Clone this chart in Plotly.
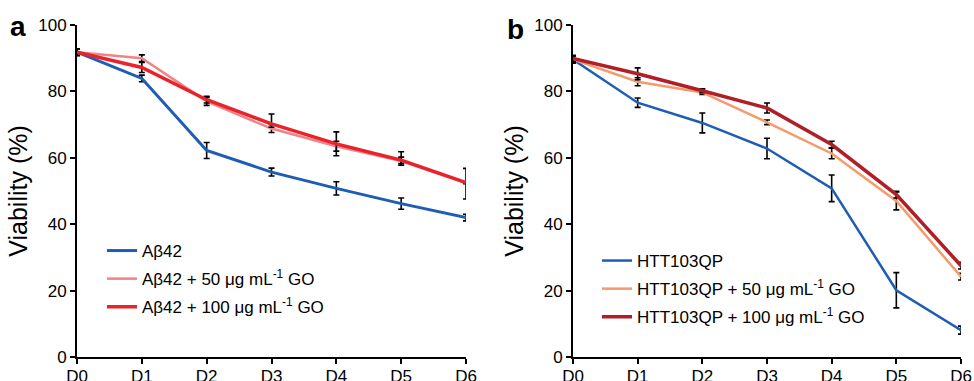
import plotly.graph_objects as go
from plotly.subplots import make_subplots

days = ["D0", "D1", "D2", "D3", "D4", "D5", "D6"]

# Panel a
ab42 = [91.8, 83.9, 62.2, 55.7, 50.8, 46.2, 42.0]
ab42_err = [1.0, 1.0, 2.4, 1.2, 2.0, 1.7, 1.0]
ab42_50 = [91.8, 90.0, 77.0, 68.8, 63.5, 59.0, 52.5]
ab42_50_err_p = [1.0, 1.0, 1.2, 1.2, 1.5, 1.2, 0.0]
ab42_50_err_m = [1.0, 1.0, 1.2, 1.2, 1.5, 1.2, 4.9]
ab42_100 = [91.8, 87.2, 77.5, 70.2, 64.2, 59.3, 52.5]
ab42_100_err_p = [1.0, 1.5, 1.0, 3.0, 3.6, 2.5, 4.3]
ab42_100_err_m = [1.0, 1.5, 1.0, 1.0, 3.6, 1.0, 0.3]

# Panel b
htt = [89.6, 76.6, 70.5, 62.8, 50.8, 20.1, 8.1]
htt_err = [1.0, 1.4, 3.0, 3.1, 4.0, 5.3, 1.2]
htt_50 = [89.6, 82.9, 79.7, 70.7, 61.3, 47.0, 24.2]
htt_50_err = [1.0, 1.2, 0.6, 0.7, 1.6, 2.7, 1.0]
htt_100 = [89.9, 85.3, 80.2, 75.0, 64.0, 48.9, 27.5]
htt_100_err = [1.0, 1.8, 0.6, 1.5, 1.0, 1.0, 1.0]

names_a = ["Aβ42", "Aβ42 + 50 μg mL<sup>-1</sup> GO", "Aβ42 + 100 μg mL<sup>-1</sup> GO"]
names_b = ["HTT103QP", "HTT103QP + 50 μg mL<sup>-1</sup> GO", "HTT103QP + 100 μg mL<sup>-1</sup> GO"]

FONT = "Liberation Sans, Arial, sans-serif"

fig = make_subplots(rows=1, cols=2)

def err(p, m=None):
    d = dict(type="data", array=p, color="black", thickness=1.6, width=3)
    if m is not None:
        d["symmetric"] = False
        d["arrayminus"] = m
    return d

fig.add_trace(go.Scatter(x=days, y=ab42, mode="lines", name=names_a[0],
                         line=dict(color="#1f5db5", width=3), error_y=err(ab42_err),
                         legend="legend", legendgroup="a1"), row=1, col=1)
fig.add_trace(go.Scatter(x=days, y=ab42_50, mode="lines", name=names_a[1],
                         line=dict(color="#f28285", width=2.5), error_y=err(ab42_50_err_p, ab42_50_err_m),
                         legend="legend", legendgroup="a2"), row=1, col=1)
fig.add_trace(go.Scatter(x=days, y=ab42_100, mode="lines", name=names_a[2],
                         line=dict(color="#e8232b", width=3.5), error_y=err(ab42_100_err_p, ab42_100_err_m),
                         legend="legend", legendgroup="a3"), row=1, col=1)

fig.add_trace(go.Scatter(x=days, y=htt, mode="lines", name=names_b[0],
                         line=dict(color="#1f5db5", width=2.5), error_y=err(htt_err),
                         legend="legend2", legendgroup="b1"), row=1, col=2)
fig.add_trace(go.Scatter(x=days, y=htt_50, mode="lines", name=names_b[1],
                         line=dict(color="#f59a6c", width=2.5), error_y=err(htt_50_err),
                         legend="legend2", legendgroup="b2"), row=1, col=2)
fig.add_trace(go.Scatter(x=days, y=htt_100, mode="lines", name=names_b[2],
                         line=dict(color="#b01f26", width=3.5), error_y=err(htt_100_err),
                         legend="legend2", legendgroup="b3"), row=1, col=2)

W, H = 974, 381
ydom = [(H - 357) / H, (H - 25) / H]

axis_common = dict(showline=True, linecolor="black", linewidth=2, ticks="outside",
                   tickcolor="black", tickwidth=2, ticklen=5, showgrid=False, zeroline=False,
                   automargin=False,
                   tickfont=dict(family=FONT, size=17, color="black"))

fig.update_xaxes(**axis_common, range=[0, 6], type="category", ticklabelstandoff=-2)
fig.update_yaxes(**axis_common, range=[0, 100], tickvals=[0, 20, 40, 60, 80, 100],
                 ticklabelstandoff=0,
                 title=dict(text="Viability (%)", font=dict(family=FONT, size=25, color="black"),
                            standoff=3))
fig.update_xaxes(domain=[77 / W, 466 / W], row=1, col=1)
fig.update_xaxes(domain=[573 / W, 961 / W], row=1, col=2)
fig.update_yaxes(domain=ydom)

legend_common = dict(bgcolor="rgba(0,0,0,0)", font=dict(family=FONT, size=17, color="black"),
                     xanchor="left", yanchor="top", tracegroupgap=3, itemwidth=30)

fig.update_layout(
    width=W, height=H,
    margin=dict(l=0, r=0, t=0, b=0),
    paper_bgcolor="white", plot_bgcolor="white",
    showlegend=True,
    legend=dict(**legend_common, x=102 / W, y=(H - 233) / H),
    legend2=dict(**legend_common, x=597 / W, y=(H - 243) / H),
    annotations=[
        dict(text="<b>a</b>", x=18 / W, y=(H - 26) / H, xref="paper", yref="paper",
             xanchor="center", yanchor="middle", showarrow=False,
             font=dict(family=FONT, size=28, color="black")),
        dict(text="<b>b</b>", x=515 / W, y=(H - 29) / H, xref="paper", yref="paper",
             xanchor="center", yanchor="middle", showarrow=False,
             font=dict(family=FONT, size=28, color="black")),
    ],
)

fig.write_html("out.html", config={"displayModeBar": False},
               post_script="document.body.style.margin='0';document.body.style.overflow='hidden';")
